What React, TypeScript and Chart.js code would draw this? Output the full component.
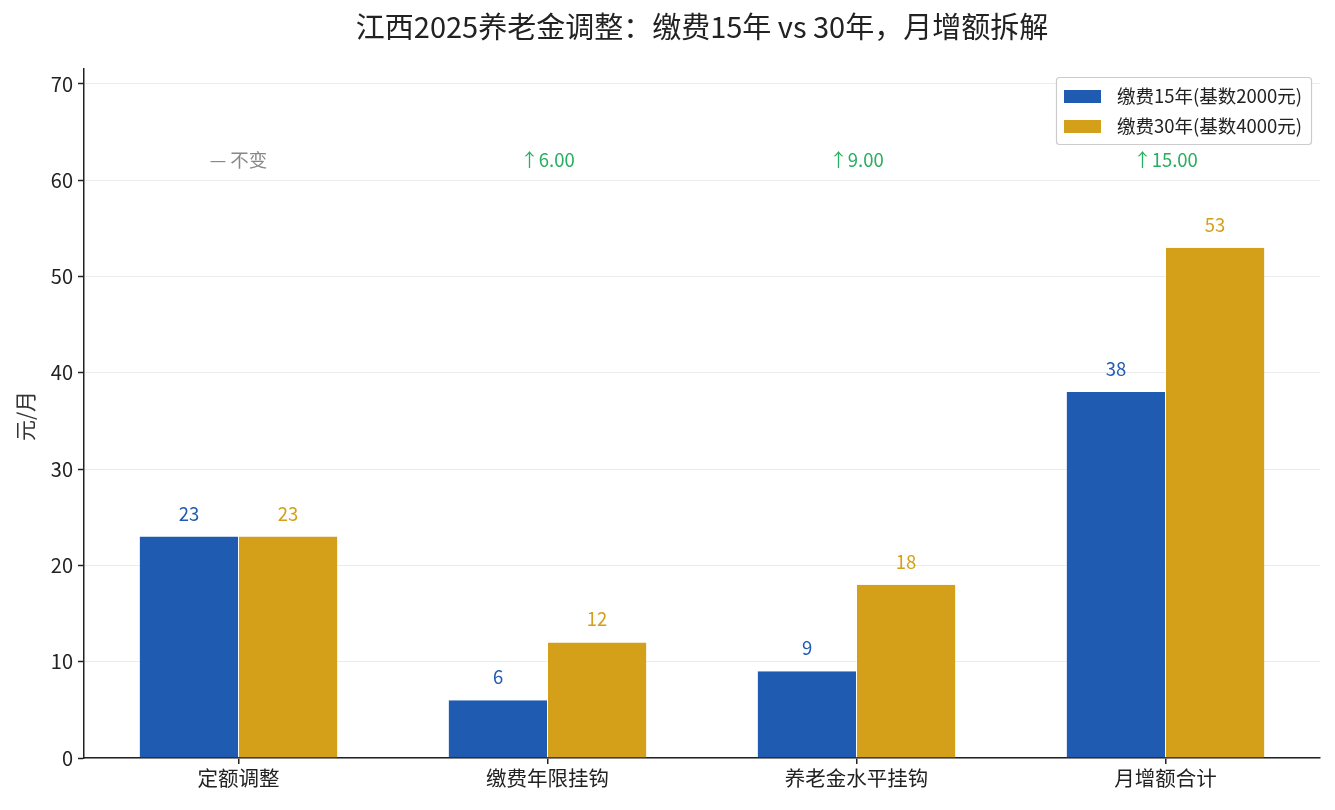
import React, { useEffect, useRef } from 'react';
import { Chart, registerables } from 'chart.js';

Chart.register(...registerables);

const categories = ['定额调整', '缴费年限挂钩', '养老金水平挂钩', '月增额合计'];
const series15 = [23, 6, 9, 38];
const series30 = [23, 12, 18, 53];
const seriesNames = ['缴费15年(基数2000元)', '缴费30年(基数4000元)'];
const diffLabels = ['— 不变', '↑6.00', '↑9.00', '↑15.00'];
const diffUp = [false, true, true, true];

const BLUE = '#1f5bb0';
const GOLD = '#d4a01a';
const FONT = '"Noto Sans CJK SC", "Noto Sans", sans-serif';

const overlay = {
  id: 'overlay',
  afterDatasetsDraw(chart: any) {
    const { ctx, scales } = chart;
    const x = scales.x;
    const y = scales.y;
    ctx.save();
    // value labels
    chart.data.datasets.forEach((ds: any, di: number) => {
      const meta = chart.getDatasetMeta(di);
      meta.data.forEach((bar: any, i: number) => {
        ctx.fillStyle = di === 0 ? BLUE : GOLD;
        ctx.font = `18.5px ${FONT}`;
        ctx.textAlign = 'center';
        ctx.textBaseline = 'middle';
        ctx.fillText(String(ds.data[i]), bar.x, bar.y - 23);
      });
    });
    // difference annotations
    categories.forEach((_, i) => {
      ctx.fillStyle = diffUp[i] ? '#27ae60' : '#888888';
      ctx.font = `18.5px ${FONT}`;
      ctx.textAlign = 'center';
      ctx.textBaseline = 'middle';
      ctx.fillText(diffLabels[i], x.getPixelForValue(i), y.getPixelForValue(62.1));
    });
    // title
    ctx.fillStyle = '#222';
    ctx.font = `29px ${FONT}`;
    ctx.textAlign = 'center';
    ctx.textBaseline = 'middle';
    ctx.fillText('江西2025养老金调整：缴费15年 vs 30年，月增额拆解', 702, 27);
    // y title
    ctx.save();
    ctx.translate(25, 416);
    ctx.rotate(-Math.PI / 2);
    ctx.font = `21px ${FONT}`;
    ctx.fillStyle = '#333';
    ctx.fillText('元/月', 0, 0);
    ctx.restore();
    // legend
    ctx.fillStyle = 'rgba(255,255,255,0.9)';
    ctx.strokeStyle = '#cccccc';
    ctx.lineWidth = 1.2;
    ctx.beginPath();
    ctx.roundRect(1056.5, 77.5, 255, 67, 3);
    ctx.fill();
    ctx.stroke();
    [BLUE, GOLD].forEach((c, i) => {
      const cy = 96 + i * 30;
      ctx.fillStyle = c;
      ctx.fillRect(1064, cy - 6, 37, 13);
      ctx.fillStyle = '#222';
      ctx.font = `18.5px ${FONT}`;
      ctx.textAlign = 'left';
      ctx.textBaseline = 'middle';
      ctx.fillText(seriesNames[i], 1117, cy);
    });
    ctx.restore();
  },
};

export default function App() {
  const canvasRef = useRef<HTMLCanvasElement>(null);
  const chartRef = useRef<Chart | null>(null);

  useEffect(() => {
    document.body.style.margin = '0';
    if (!canvasRef.current) return;
    if (chartRef.current) chartRef.current.destroy();

    chartRef.current = new Chart(canvasRef.current, {
      type: 'bar',
      data: {
        labels: categories,
        datasets: [
          {
            label: seriesNames[0],
            data: series15,
            backgroundColor: BLUE,
            borderColor: '#ffffff',
            borderWidth: { left: 0, right: 0.5, top: 0, bottom: 0 },
            barPercentage: 1,
            categoryPercentage: 0.64,
          },
          {
            label: seriesNames[1],
            data: series30,
            backgroundColor: GOLD,
            borderColor: '#ffffff',
            borderWidth: { left: 0.5, right: 0, top: 0, bottom: 0 },
            barPercentage: 1,
            categoryPercentage: 0.64,
          },
        ],
      },
      options: {
        animation: false,
        responsive: false,
        layout: { padding: { left: 0, right: 15, top: 69, bottom: 0 } },
        plugins: {
          legend: { display: false },
          title: { display: false },
          tooltip: { enabled: false },
        },
        scales: {
          x: {
            offset: true,
            grid: { display: true, drawOnChartArea: false, offset: false, tickLength: 6, color: '#222', lineWidth: 1.5 },
            border: { color: '#222', width: 1.5 },
            ticks: { color: '#222', font: { family: FONT, size: 20.5 }, padding: 2 },
            afterFit: (s: any) => { s.height = 52; },
          },
          y: {
            min: 0,
            max: 71.55,
            z: 1,
            afterBuildTicks: (s: any) => {
              s.ticks = [0, 10, 20, 30, 40, 50, 60, 70].map((v) => ({ value: v }));
            },
            grid: {
              color: 'rgba(200,200,200,0.35)',
              lineWidth: 1,
              tickLength: 6,
              tickColor: '#222',
              tickWidth: 1.5,
            },
            border: { color: '#222', width: 1.5 },
            ticks: { color: '#222', font: { family: FONT, size: 20 }, padding: 5 },
            afterFit: (s: any) => { s.width = 84; },
          },
        },
      },
      plugins: [overlay],
    });

    return () => {
      if (chartRef.current) {
        chartRef.current.destroy();
        chartRef.current = null;
      }
    };
  }, []);

  return (
    <div style={{ width: 1335, height: 810, background: '#fff' }}>
      <canvas ref={canvasRef} width={1335} height={810} style={{ display: 'block' }} />
    </div>
  );
}
